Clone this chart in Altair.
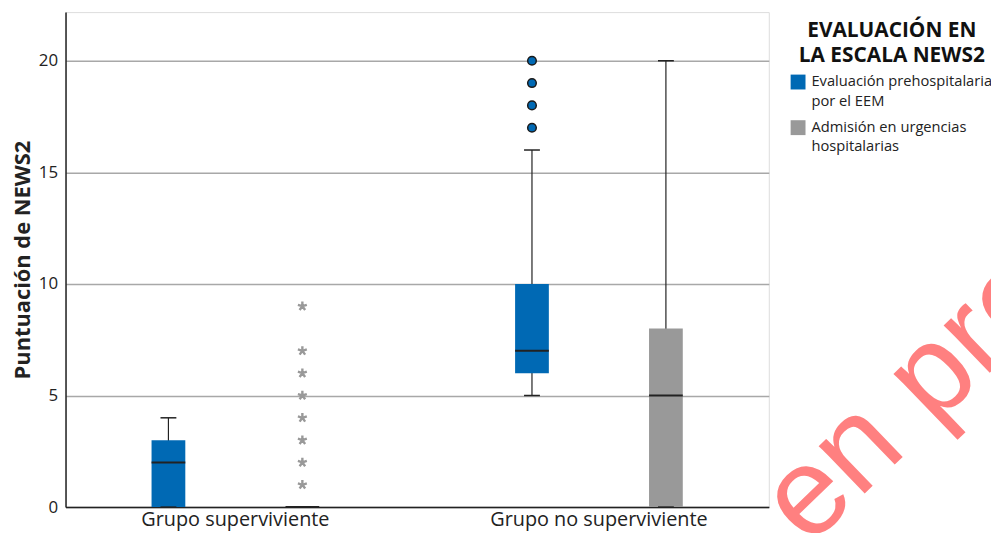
import altair as alt
import pandas as pd

# ---------------- data ----------------
groups = ["Grupo superviviente", "Grupo no superviviente"]
series = ["Evaluación prehospitalaria por el EEM", "Admisión en urgencias hospitalarias"]
series_label_lines = [["Evaluación prehospitalaria", "por el EEM"],
                      ["Admisión en urgencias", "hospitalarias"]]
series_colors = ["#0069B4", "#999999"]

# box statistics, one entry per group x series
box_group = [groups[0], groups[0], groups[1], groups[1]]
box_series = [series[0], series[1], series[0], series[1]]
whisker_low = [0, 0, 5, 0]
q1 = [0, 0, 6, 0]
median = [2, 0, 7, 5]
q3 = [3, 0, 10, 8]
whisker_high = [4, 0, 16, 20]

# outliers (circles) and extreme values (asterisks)
outlier_group = groups[1]
outlier_series = series[0]
outlier_values = [17, 18, 19, 20]
extreme_group = groups[0]
extreme_series = series[1]
extreme_values = [1, 2, 3, 4, 5, 6, 7, 9]

y_ticks = [0, 5, 10, 15, 20]
watermark = "en prensa"

# ---------------- tables ----------------
box_df = pd.DataFrame({
    "group": box_group, "series": box_series,
    "lo": whisker_low, "q1": q1, "med": median, "q3": q3, "hi": whisker_high,
})
out_df = pd.DataFrame({"group": outlier_group, "series": outlier_series, "value": outlier_values})
ext_df = pd.DataFrame({"group": extreme_group, "series": extreme_series, "value": extreme_values})

FONT = "Open Sans"

x_enc = alt.X("group:N", sort=groups,
              scale=alt.Scale(domain=groups, paddingInner=0.3, paddingOuter=0.11725),
              axis=alt.Axis(title=None, labelAngle=0, labelFontSize=20, labelColor="#222222",
                            labelPadding=3, labelLimit=0, ticks=False, domain=True,
                            domainColor="#222222", domainWidth=1.5, grid=False, labelFont=FONT))
xo_enc = alt.XOffset("series:N", sort=series,
                     scale=alt.Scale(domain=series, paddingInner=0.748, paddingOuter=0.324))
y_scale = alt.Scale(domain=[0, 22.18], nice=False, zero=True)
y_axis = alt.Axis(values=y_ticks, title="Puntuación de NEWS2", titleFontSize=22,
                  titleFontWeight="bold", titleColor="#222222", titleFont=FONT,
                  titlePadding=4, labelFontSize=17, labelColor="#222222", labelFont=FONT,
                  labelPadding=8, ticks=False, domain=True, domainColor="#222222",
                  domainWidth=1.5, grid=True, gridColor="#a8a8a8", gridWidth=1.5)

label_expr = " : ".join(
    [f"datum.label == '{s}' ? {lines!r}" for s, lines in zip(series, series_label_lines)]
) + " : datum.label"

whiskers = alt.Chart(box_df).mark_rule(color="#222222", strokeWidth=1.2).encode(
    x=x_enc, xOffset=xo_enc,
    y=alt.Y("lo:Q", scale=y_scale, axis=y_axis), y2="hi:Q",
)

boxes = alt.Chart(box_df).mark_bar(opacity=1).encode(
    x=x_enc, xOffset=xo_enc,
    y=alt.Y("q1:Q", scale=y_scale), y2="q3:Q",
    color=alt.Color("series:N", sort=series,
                    scale=alt.Scale(domain=series, range=series_colors),
                    legend=alt.Legend(
                        title=["EVALUACIÓN EN", "LA ESCALA NEWS2"],
                        orient="none", legendX=731, legendY=8,
                        titleFontSize=21, titleFontWeight="bold", titleColor="#111111",
                        titleFont=FONT, titleLineHeight=25, titleAlign="center",
                        titleAnchor="middle", titlePadding=9, titleLimit=0,
                        labelFontSize=14.8, labelFont=FONT, labelColor="#222222",
                        labelLimit=0, labelOffset=6,
                        labelExpr=label_expr,
                        symbolType="square", symbolSize=225,
                        symbolStrokeWidth=0, symbolOpacity=1, rowPadding=10, padding=0)),
)

medians = alt.Chart(box_df).mark_tick(color="#222222", size=34, thickness=2, opacity=1).encode(
    x=x_enc, xOffset=xo_enc, y=alt.Y("med:Q", scale=y_scale),
)
caps_hi = alt.Chart(box_df).mark_tick(color="#222222", size=16, thickness=1.5, opacity=1).encode(
    x=x_enc, xOffset=xo_enc, y=alt.Y("hi:Q", scale=y_scale),
)
caps_lo = alt.Chart(box_df).mark_tick(color="#222222", size=16, thickness=1.5, opacity=1).encode(
    x=x_enc, xOffset=xo_enc, y=alt.Y("lo:Q", scale=y_scale),
)

outliers = alt.Chart(out_df).mark_point(
    shape="circle", size=75, filled=True, fill=series_colors[0], stroke="#1a1a1a",
    strokeWidth=1.5, opacity=1, fillOpacity=1,
).encode(x=x_enc, xOffset=xo_enc, y=alt.Y("value:Q", scale=y_scale))

star_path = ("M0,0L0,-1M0,0L0.951,-0.309M0,0L0.588,0.809"
             "M0,0L-0.588,0.809M0,0L-0.951,-0.309")
extremes = alt.Chart(ext_df).mark_point(
    shape=star_path, size=90, filled=False, stroke="#999999", strokeWidth=2.4, opacity=1,
).encode(x=x_enc, xOffset=xo_enc, y=alt.Y("value:Q", scale=y_scale))

wm = alt.Chart(pd.DataFrame({"t": [watermark]})).mark_text(
    font="Liberation Sans", fontSize=126, color="#FF8080", angle=316,
    align="left", baseline="alphabetic",
).encode(text="t:N", x=alt.value(749), y=alt.value(540))

chart = alt.layer(whiskers, boxes, medians, caps_hi, caps_lo, outliers, extremes, wm).properties(
    width=709, height=499,
    padding={"left": 58, "top": 2, "right": 224, "bottom": 24},
    autosize="none",
).configure_view(stroke=None).configure(
    background="white",
    style={"guide-label": {"lineHeight": 20}},
)

chart.save("out.html", embed_options={"renderer": "svg", "actions": False})
